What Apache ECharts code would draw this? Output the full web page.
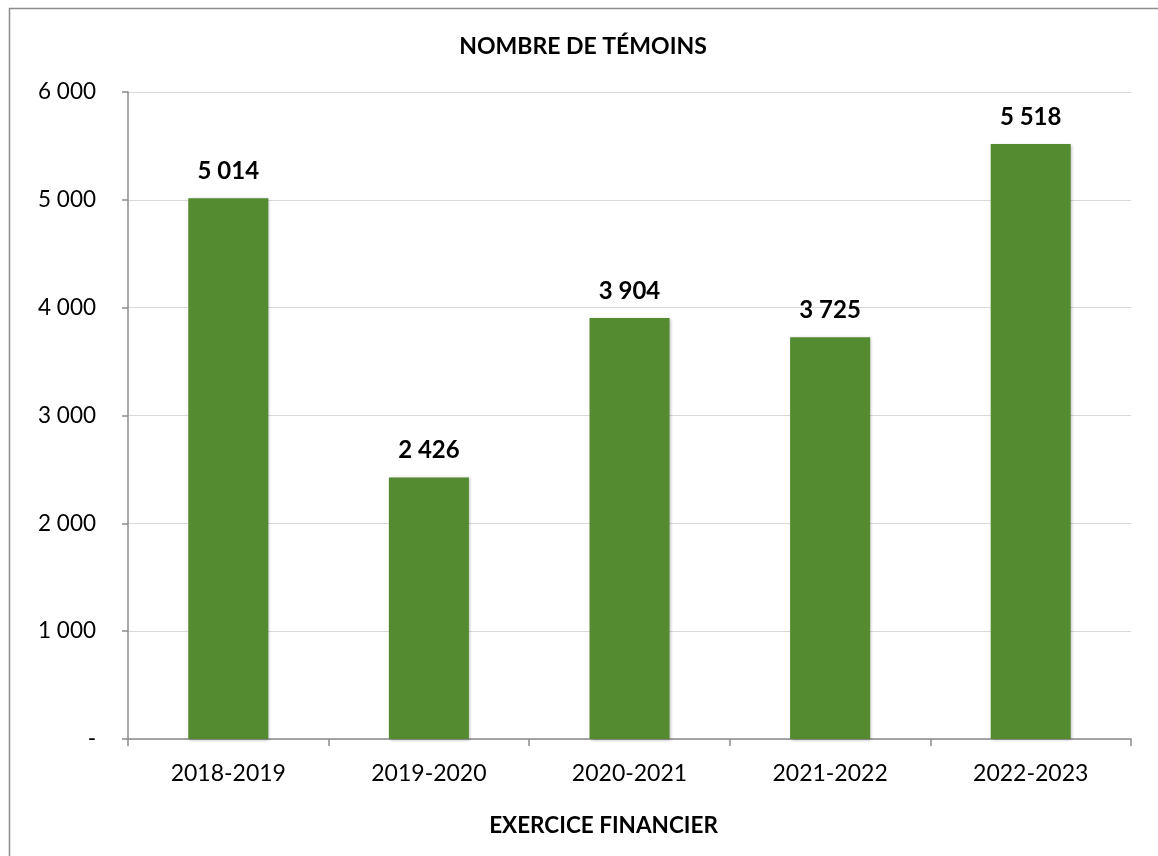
<!DOCTYPE html>
<html>
<head>
<meta charset="utf-8">
<script src="https://cdn.jsdelivr.net/npm/echarts@6/dist/echarts.min.js"></script>
<style>html,body{margin:0;padding:0;background:#fff;}#c{width:1158px;height:856px;}</style>
</head>
<body>
<div id="c"></div>
<script>
var categories = ['2018-2019', '2019-2020', '2020-2021', '2021-2022', '2022-2023'];
var values = [5014, 2426, 3904, 3725, 5518];
var yTicks = [0, 1000, 2000, 3000, 4000, 5000, 6000];

function fmt(v) {
  if (v === 0) return '-';
  return String(v).replace(/\B(?=(\d{3})+(?!\d))/g, ' ');
}
var FONT = 'Lato';
var chart = echarts.init(document.getElementById('c'), null, {renderer: 'canvas'});
chart.setOption({
  animation: false,
  backgroundColor: '#fff',
  title: {
    text: 'NOMBRE DE TÉMOINS',
    left: 578, top: 30, textAlign: 'center',
    textStyle: {fontFamily: FONT, fontWeight: 'bold', fontSize: 23, color: '#000'}
  },
  graphic: [{
    type: 'rect', left: 7, top: 6, z: -1,
    shape: {width: 1300, height: 1000},
    style: {fill: 'none', stroke: '#8c8c8c', lineWidth: 1.5}
  }],
  grid: {left: 128, right: 27, top: 92, bottom: 117},
  xAxis: {
    type: 'category', data: categories,
    name: 'EXERCICE FINANCIER', nameLocation: 'middle', nameGap: 75,
    nameTextStyle: {fontFamily: FONT, fontWeight: 'bold', fontSize: 22.5, color: '#000', padding: [0, 52, 0, 0]},
    axisLine: {lineStyle: {color: '#8c8c8c', width: 1.5}},
    axisTick: {show: true, alignWithLabel: false, length: 7, lineStyle: {color: '#8c8c8c', width: 1.5}},
    axisLabel: {fontFamily: FONT, fontSize: 23, color: '#000', margin: 23}
  },
  yAxis: {
    type: 'value', min: 0, max: 6000, interval: 1000,
    axisLine: {show: true, lineStyle: {color: '#8c8c8c', width: 1.5}},
    axisTick: {show: true, length: 6, lineStyle: {color: '#8c8c8c', width: 1.5}},
    splitLine: {lineStyle: {color: '#d9d9d9', width: 1}},
    axisLabel: {fontFamily: FONT, fontSize: 22.5, color: '#000', margin: 32, formatter: fmt}
  },
  series: [{
    type: 'bar', data: values, barWidth: 80,
    itemStyle: {color: '#548b30', shadowBlur: 3, shadowColor: 'rgba(0,0,0,0.3)', shadowOffsetX: 1, shadowOffsetY: 1},
    label: {show: true, position: 'top', distance: 15, formatter: function(p){return fmt(p.value);},
      fontFamily: FONT, fontWeight: 'bold', fontSize: 24, color: '#000'}
  }]
});
</script>
</body>
</html>
